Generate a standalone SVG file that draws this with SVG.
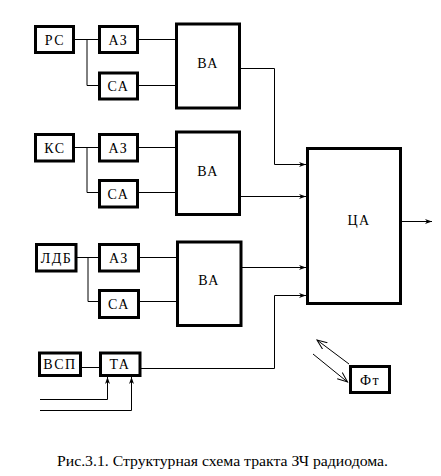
<svg xmlns="http://www.w3.org/2000/svg" width="441" height="476" viewBox="0 0 441 476">
<style>
.box{fill:#fff;stroke:#000;stroke-width:3}
.ln{fill:none;stroke:#000;stroke-width:1}
text{fill:#000;font-family:"Times New Roman","Liberation Serif",serif}
.t{font-size:14px;text-anchor:middle;letter-spacing:1.5px}
.cap{font-size:14px}
</style>
<defs>
<marker id="ah" markerUnits="userSpaceOnUse" markerWidth="8" markerHeight="6" refX="7" refY="3" orient="auto">
<path d="M0,0.5 L7,3 L0,5.5 L2,3 Z" fill="#000"/>
</marker>
<marker id="oa" markerUnits="userSpaceOnUse" markerWidth="12" markerHeight="10" refX="10" refY="5" orient="auto">
<path d="M0,1 L10,5 L0,9" fill="none" stroke="#000" stroke-width="1"/>
</marker>
</defs>
<rect width="441" height="476" fill="#fff"/>
<g id="connectors">
<path class="ln" d="M75,39.5 H99 M87,39.5 V85.5 H99 M138,39.5 H176 M138,85.5 H176"/>
<path class="ln" d="M75,147.5 H99 M87,147.5 V192.5 H99 M138,147.5 H176 M138,192.5 H176"/>
<path class="ln" d="M77,257.5 H99 M88,257.5 V301.5 H99 M139,257.5 H176 M139,301.5 H176"/>
<path class="ln" d="M240,68.5 H274.5 V164.5 H306" marker-end="url(#ah)"/>
<path class="ln" d="M240,196.5 H306" marker-end="url(#ah)"/>
<path class="ln" d="M241,267.5 H306" marker-end="url(#ah)"/>
<path class="ln" d="M140,368.5 H274.5 V295.5 H306" marker-end="url(#ah)"/>
<path class="ln" d="M401,221.5 H432" marker-end="url(#ah)"/>
<path class="ln" d="M81,367.5 H100"/>
<path class="ln" d="M40,399.5 H107.5 V377" marker-end="url(#ah)"/>
<path class="ln" d="M40,410.5 H131.5 V377" marker-end="url(#ah)"/>
<path class="ln" d="M349,364 L317,340" marker-end="url(#oa)"/>
<path class="ln" d="M313,354 L347.5,382" marker-end="url(#oa)"/>
</g>
<g id="n-rs"><rect class="box" x="35.5" y="26.5" width="38" height="26"/><text class="t" x="55" y="44.5">РС</text></g>
<g id="n-az1"><rect class="box" x="99.5" y="26.5" width="38" height="26"/><text class="t" x="118.5" y="44.5">АЗ</text></g>
<g id="n-sa1"><rect class="box" x="99.5" y="73" width="38" height="26"/><text class="t" x="118.5" y="91">СА</text></g>
<g id="n-va1"><rect class="box" x="176.5" y="24" width="63" height="84"/><text class="t" x="208" y="68">ВА</text></g>

<g id="n-ks"><rect class="box" x="35.5" y="134.5" width="38" height="26.5"/><text class="t" x="55" y="152.5">КС</text></g>
<g id="n-az2"><rect class="box" x="99.5" y="134.5" width="38" height="26.5"/><text class="t" x="118.5" y="152.5">АЗ</text></g>
<g id="n-sa2"><rect class="box" x="99.5" y="180.5" width="38" height="26.5"/><text class="t" x="118.5" y="198.5">СА</text></g>
<g id="n-va2"><rect class="box" x="176.5" y="132" width="63" height="82.5"/><text class="t" x="208" y="176">ВА</text></g>

<g id="n-ldb"><rect class="box" x="36.5" y="244.5" width="39.5" height="26.5"/><text class="t" x="56.5" y="262.5" letter-spacing="0.5">ЛДБ</text></g>
<g id="n-az3"><rect class="box" x="99.5" y="244.5" width="39" height="26.5"/><text class="t" x="119" y="262.5">АЗ</text></g>
<g id="n-sa3"><rect class="box" x="99.5" y="290.5" width="39" height="27"/><text class="t" x="119" y="308.5">СА</text></g>
<g id="n-va3"><rect class="box" x="177.5" y="242" width="63.5" height="83.5"/><text class="t" x="209" y="285">ВА</text></g>

<g id="n-vsp"><rect class="box" x="39.5" y="353" width="41" height="22.5"/><text class="t" x="60" y="369" letter-spacing="0.5">ВСП</text></g>
<g id="n-ta"><rect class="box" x="100.5" y="353" width="39.5" height="22.5"/><text class="t" x="120" y="369">ТА</text></g>

<g id="n-ca"><rect class="box" x="307.5" y="148.5" width="93" height="155"/><text class="t" x="359" y="225">ЦА</text></g>
<g id="n-ft"><rect class="box" x="350.5" y="366.5" width="39" height="26"/><text class="t" x="370" y="385">Фт</text></g>

<text class="cap" x="57" y="466" textLength="331" lengthAdjust="spacingAndGlyphs">Рис.3.1. Структурная схема тракта ЗЧ радиодома.</text>
</svg>
